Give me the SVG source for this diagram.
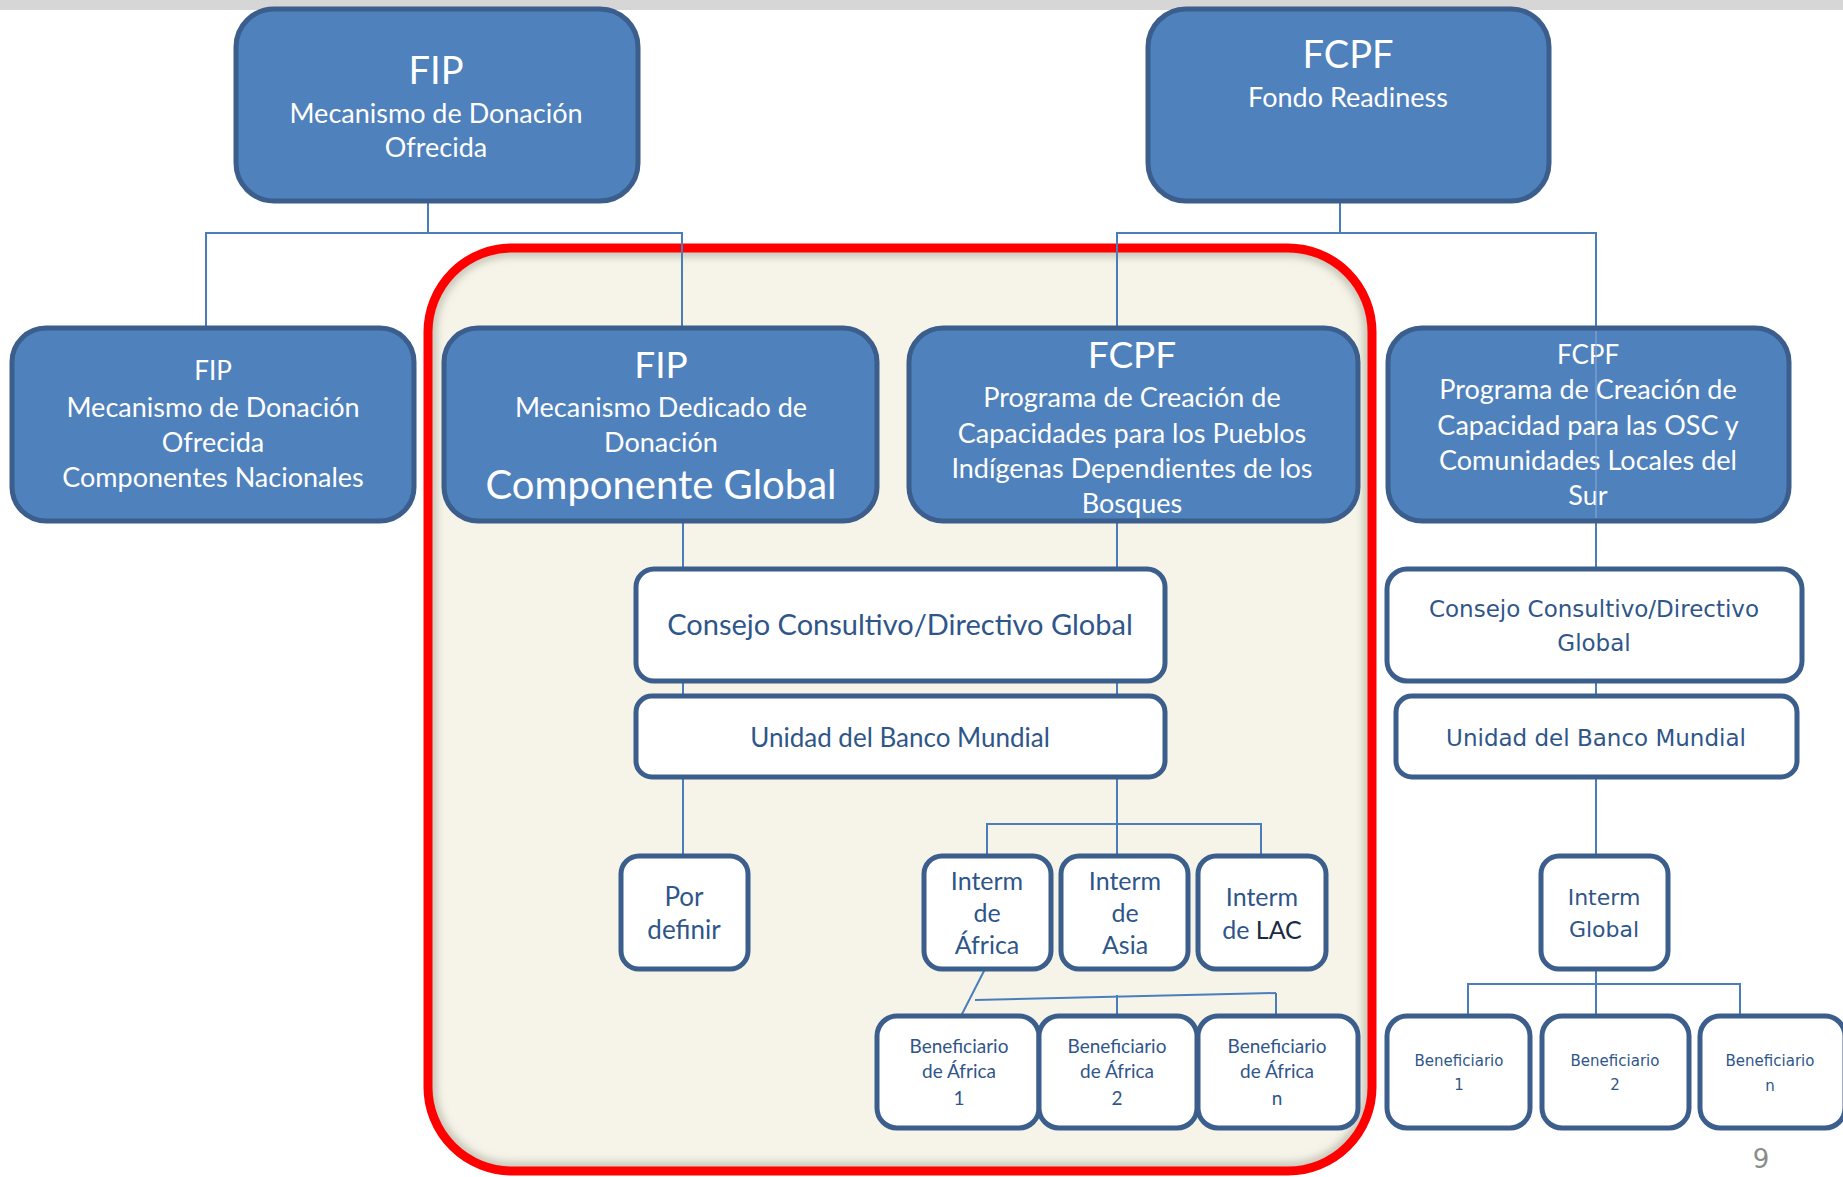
<svg xmlns="http://www.w3.org/2000/svg" width="1843" height="1177" viewBox="0 0 1843 1177">
<defs>
<style>
.blue{fill:#4f81bd;stroke:#3b5e8c;stroke-width:5}
.white{fill:#ffffff;stroke:#3b5e8c;stroke-width:5}
.wt{fill:#ffffff;font-family:Lato,"Open Sans",sans-serif;text-anchor:middle}
.bt{fill:#2f5689;font-family:Lato,"Open Sans",sans-serif;text-anchor:middle}
.dv{fill:#2f5689;font-family:"DejaVu Sans",sans-serif;text-anchor:middle}
.con{fill:none;stroke:#4a7ebb;stroke-width:2}
</style>
<filter id="blur" x="-5%" y="-5%" width="110%" height="110%"><feGaussianBlur stdDeviation="4"/></filter>
<clipPath id="redclip"><rect x="428" y="248" width="944" height="923" rx="84"/></clipPath>
</defs>
<rect x="0" y="0" width="1843" height="10" fill="#d6d6d6"/>

<g id="red-group">
<rect x="428" y="248" width="944" height="923" rx="84" fill="#f6f4e9"/>
<rect x="432" y="252" width="936" height="915" rx="80" fill="none" stroke="#8a8678" stroke-opacity="0.55" stroke-width="8" filter="url(#blur)" clip-path="url(#redclip)"/>
<rect x="428" y="248" width="944" height="923" rx="84" fill="none" stroke="#ff0000" stroke-width="9"/>
</g>

<g id="connectors">
<polyline class="con" points="428,185 428,233"/>
<polyline class="con" points="206,328 206,233 682,233 682,328"/>
<polyline class="con" points="1340,185 1340,233"/>
<polyline class="con" points="1117,328 1117,233 1596,233 1596,328"/>
<line class="con" x1="683" y1="521" x2="683" y2="569"/>
<line class="con" x1="683" y1="681" x2="683" y2="696"/>
<line class="con" x1="683" y1="777" x2="683" y2="856"/>
<line class="con" x1="1117" y1="521" x2="1117" y2="569"/>
<line class="con" x1="1117" y1="681" x2="1117" y2="696"/>
<line class="con" x1="1117" y1="777" x2="1117" y2="856"/>
<polyline class="con" points="987,856 987,824 1261,824 1261,856"/>
<line class="con" x1="985" y1="969" x2="961" y2="1016"/>
<line class="con" x1="975" y1="1000" x2="1276" y2="993"/>
<line class="con" x1="1117" y1="995" x2="1117" y2="1016"/>
<line class="con" x1="1276" y1="993" x2="1276" y2="1016"/>
<line class="con" x1="1596" y1="521" x2="1596" y2="569"/>
<line class="con" x1="1596" y1="681" x2="1596" y2="696"/>
<line class="con" x1="1596" y1="777" x2="1596" y2="856"/>
<line class="con" x1="1596" y1="969" x2="1596" y2="1016"/>
<polyline class="con" points="1468,1016 1468,984 1740,984 1740,1016"/>
</g>

<g id="fip-top">
<rect class="blue" x="236" y="9" width="402" height="192" rx="38"/>
<text class="wt" x="436" y="84" font-size="38">FIP</text>
<text class="wt" x="436" y="123" font-size="27">Mecanismo de Donación</text>
<text class="wt" x="436" y="157" font-size="27">Ofrecida</text>
</g>

<g id="fcpf-top">
<rect class="blue" x="1148" y="9" width="401" height="192" rx="38"/>
<text class="wt" x="1348" y="68" font-size="38">FCPF</text>
<text class="wt" x="1348" y="107" font-size="27">Fondo Readiness</text>
</g>

<g id="fip-nacional">
<rect class="blue" x="12" y="328" width="402" height="193" rx="34"/>
<text class="wt" x="213" y="380" font-size="26">FIP</text>
<text class="wt" x="213" y="417" font-size="27">Mecanismo de Donación</text>
<text class="wt" x="213" y="452" font-size="27">Ofrecida</text>
<text class="wt" x="213" y="487" font-size="27">Componentes Nacionales</text>
</g>

<g id="fip-global">
<rect class="blue" x="444" y="328" width="433" height="193" rx="34"/>
<text class="wt" x="661" y="378" font-size="37">FIP</text>
<text class="wt" x="661" y="417" font-size="27">Mecanismo Dedicado de</text>
<text class="wt" x="661" y="452" font-size="27">Donación</text>
<text class="wt" x="661" y="499" font-size="40">Componente Global</text>
</g>

<g id="fcpf-pueblos">
<rect class="blue" x="909" y="328" width="449" height="193" rx="34"/>
<text class="wt" x="1132" y="368" font-size="37">FCPF</text>
<text class="wt" x="1132" y="407" font-size="27">Programa de Creación de</text>
<text class="wt" x="1132" y="443" font-size="27">Capacidades para los Pueblos</text>
<text class="wt" x="1132" y="478" font-size="27">Indígenas Dependientes de los</text>
<text class="wt" x="1132" y="513" font-size="27">Bosques</text>
</g>

<g id="fcpf-osc">
<rect class="blue" x="1388" y="328" width="401" height="193" rx="34"/>
<text class="wt" x="1588" y="364" font-size="26">FCPF</text>
<text class="wt" x="1588" y="399" font-size="27">Programa de Creación de</text>
<text class="wt" x="1588" y="435" font-size="27">Capacidad para las OSC y</text>
<text class="wt" x="1588" y="470" font-size="27">Comunidades Locales del</text>
<text class="wt" x="1588" y="505" font-size="27">Sur</text>
<line x1="1596" y1="331" x2="1596" y2="518" stroke="#8eaedb" stroke-width="1.2" stroke-opacity="0.8"/>
</g>

<g id="consejo-global">
<rect class="white" x="636" y="569" width="529" height="112" rx="18"/>
<text class="bt" x="900" y="635" font-size="29">Consejo Consultivo/Directivo Global</text>
</g>

<g id="unidad-global">
<rect class="white" x="636" y="696" width="529" height="81" rx="16"/>
<text class="bt" x="900" y="747" font-size="26">Unidad del Banco Mundial</text>
</g>

<g id="por-definir">
<rect class="white" x="621" y="856" width="127" height="113" rx="18"/>
<text class="bt" x="684" y="906" font-size="26">Por</text>
<text class="bt" x="684" y="939" font-size="26">definir</text>
</g>

<g id="interm-africa">
<rect class="white" x="924" y="856" width="127" height="113" rx="18"/>
<text class="bt" x="987" y="890" font-size="25">Interm</text>
<text class="bt" x="987" y="922" font-size="25">de</text>
<text class="bt" x="987" y="954" font-size="25">África</text>
</g>

<g id="interm-asia">
<rect class="white" x="1061" y="856" width="127" height="113" rx="18"/>
<text class="bt" x="1125" y="890" font-size="25">Interm</text>
<text class="bt" x="1125" y="922" font-size="25">de</text>
<text class="bt" x="1125" y="954" font-size="25">Asia</text>
</g>

<g id="interm-lac">
<rect class="white" x="1198" y="856" width="128" height="113" rx="18"/>
<text class="bt" x="1262" y="906" font-size="25">Interm</text>
<text class="bt" x="1262" y="939" font-size="25">de <tspan fill="#1b2a44">LAC</tspan></text>
</g>

<g id="benef-africa-1">
<rect class="white" x="877" y="1016" width="162" height="112" rx="20"/>
<text class="bt" x="959" y="1053" font-size="19">Beneficiario</text>
<text class="bt" x="959" y="1078" font-size="19">de África</text>
<text class="bt" x="959" y="1105" font-size="19">1</text>
</g>

<g id="benef-africa-2">
<rect class="white" x="1039" y="1016" width="158" height="112" rx="20"/>
<text class="bt" x="1117" y="1053" font-size="19">Beneficiario</text>
<text class="bt" x="1117" y="1078" font-size="19">de África</text>
<text class="bt" x="1117" y="1105" font-size="19">2</text>
</g>

<g id="benef-africa-n">
<rect class="white" x="1198" y="1016" width="160" height="112" rx="20"/>
<text class="bt" x="1277" y="1053" font-size="19">Beneficiario</text>
<text class="bt" x="1277" y="1078" font-size="19">de África</text>
<text class="bt" x="1277" y="1105" font-size="19">n</text>
</g>

<g id="consejo-osc">
<rect class="white" x="1387" y="569" width="415" height="112" rx="20"/>
<text class="dv" x="1594" y="617" font-size="23">Consejo Consultivo/Directivo</text>
<text class="dv" x="1594" y="651" font-size="23">Global</text>
</g>

<g id="unidad-osc">
<rect class="white" x="1396" y="696" width="401" height="81" rx="16"/>
<text class="dv" x="1596" y="746" font-size="23">Unidad del Banco Mundial</text>
</g>

<g id="interm-global">
<rect class="white" x="1541" y="856" width="127" height="113" rx="18"/>
<text class="dv" x="1604" y="905" font-size="22">Interm</text>
<text class="dv" x="1604" y="937" font-size="22">Global</text>
</g>

<g id="benef-1">
<rect class="white" x="1387" y="1016" width="143" height="112" rx="20"/>
<text class="dv" x="1459" y="1066" font-size="15">Beneficiario</text>
<text class="dv" x="1459" y="1090" font-size="15">1</text>
</g>

<g id="benef-2">
<rect class="white" x="1542" y="1016" width="147" height="112" rx="20"/>
<text class="dv" x="1615" y="1066" font-size="15">Beneficiario</text>
<text class="dv" x="1615" y="1090" font-size="15">2</text>
</g>

<g id="benef-n">
<rect class="white" x="1700" y="1016" width="145" height="112" rx="20"/>
<text class="dv" x="1770" y="1066" font-size="15">Beneficiario</text>
<text class="dv" x="1770" y="1091" font-size="15">n</text>
</g>

<text x="1761" y="1168" font-size="26" fill="#8c8c8c" font-family="DejaVu Sans,sans-serif" text-anchor="middle">9</text>
</svg>
